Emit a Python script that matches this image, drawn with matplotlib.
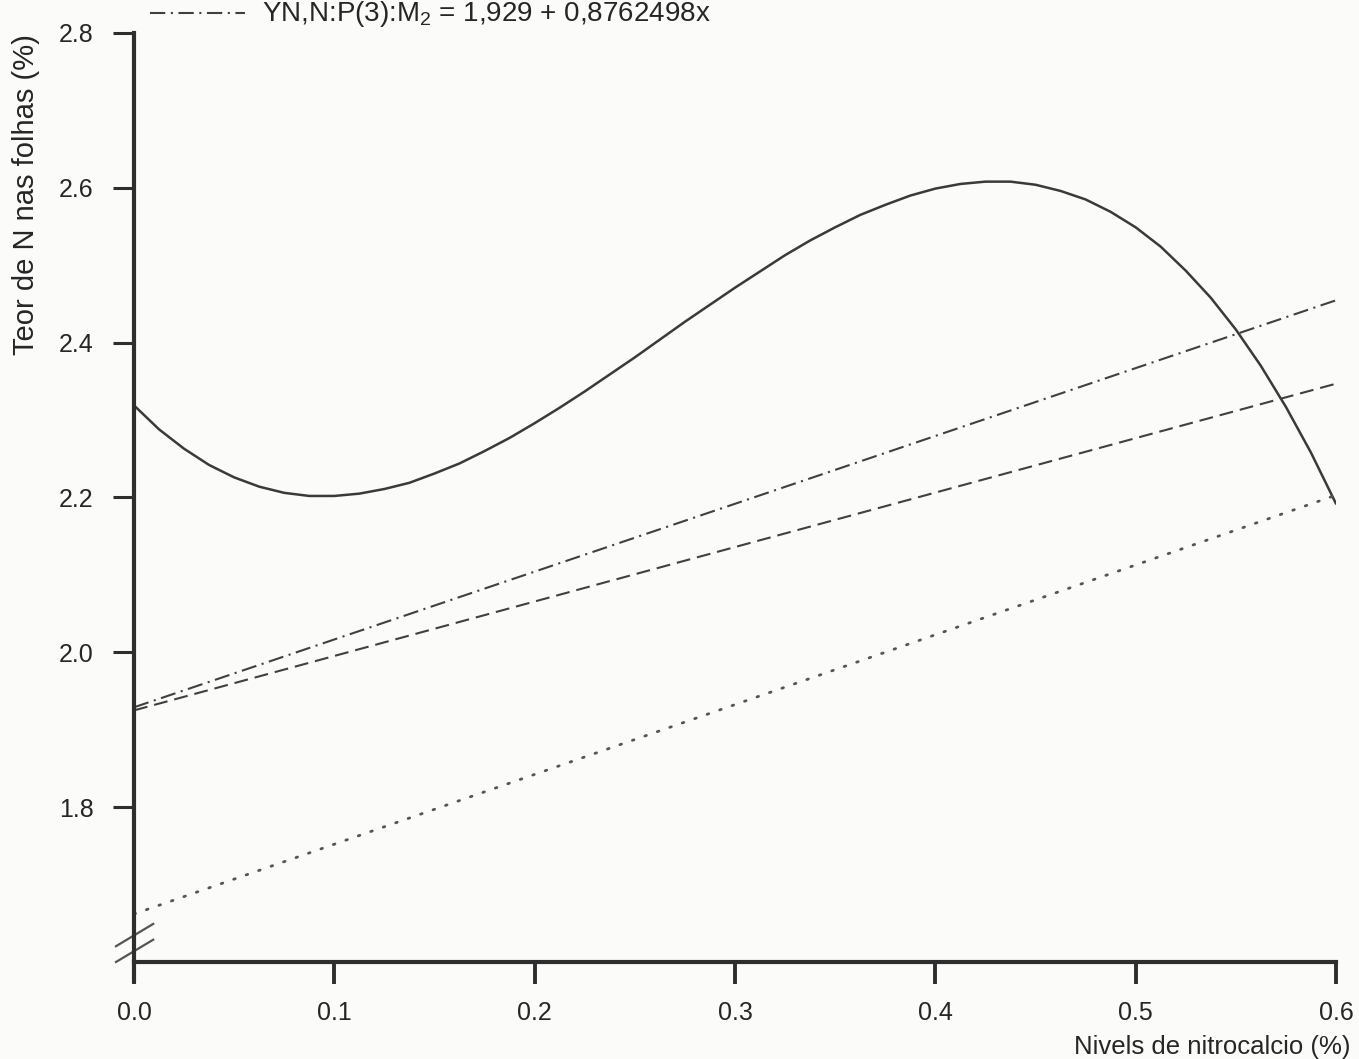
import numpy as np
import matplotlib
matplotlib.use("Agg")
from matplotlib import pyplot as plt
from matplotlib.lines import Line2D

plt.rcParams['font.family'] = ['Liberation Sans', 'DejaVu Sans']
plt.rcParams['mathtext.fontset'] = 'custom'
plt.rcParams['mathtext.rm'] = 'Liberation Sans'
plt.rcParams['lines.scale_dashes'] = False

# Niveis de nitrocalcio (%) and the cubic response of leaf N (%)
niveis = [0.0, 0.0125, 0.025, 0.0375, 0.05, 0.0625, 0.075, 0.0875, 0.1,
          0.1125, 0.125, 0.1375, 0.15, 0.1625, 0.175, 0.1875, 0.2, 0.2125,
          0.225, 0.2375, 0.25, 0.2625, 0.275, 0.2875, 0.3, 0.3125, 0.325,
          0.3375, 0.35, 0.3625, 0.375, 0.3875, 0.4, 0.4125, 0.425, 0.4375,
          0.45, 0.4625, 0.475, 0.4875, 0.5, 0.5125, 0.525, 0.5375, 0.55,
          0.5625, 0.575, 0.5875, 0.6]
teor_cubica = [2.319, 2.288, 2.263, 2.242, 2.226, 2.214, 2.206, 2.202, 2.202,
               2.205, 2.211, 2.219, 2.231, 2.244, 2.260, 2.277, 2.296, 2.316,
               2.337, 2.359, 2.381, 2.404, 2.427, 2.449, 2.471, 2.492, 2.513,
               2.532, 2.549, 2.565, 2.578, 2.590, 2.599, 2.605, 2.608, 2.608,
               2.604, 2.596, 2.585, 2.569, 2.549, 2.524, 2.493, 2.458, 2.417,
               2.370, 2.317, 2.258, 2.192]

# Linear fits, drawn between the ends of the x range
x_reta = [0.0, 0.6]
m2_intercepto, m2_inclinacao = 1.929, 0.8762498   # YN,N:P(3):M2
teor_tracejada = [1.925, 2.347]
teor_pontilhada = [1.662, 2.203]

x_ticks = [0.0, 0.1, 0.2, 0.3, 0.4, 0.5, 0.6]
x_labels = ['0.0', '0.1', '0.2', '0.3', '0.4', '0.5', '0.6']
y_ticks = [1.8, 2.0, 2.2, 2.4, 2.6, 2.8]
y_labels = ['1.8', '2.0', '2.2', '2.4', '2.6', '2.8']

W, H = 1359, 1059
fig = plt.figure(figsize=(W / 100, H / 100), dpi=100, facecolor='#fbfbfa')
ax = fig.add_axes([134 / W, 1 - 962 / H, 1202 / W, 929 / H])
ax.set_facecolor('none')

texto = '#262626'
linha = '#404040'
ax.plot(niveis, teor_cubica, color='#3a3a3a', lw=1.8, solid_capstyle='round')
m2 = [m2_intercepto + m2_inclinacao * x for x in x_reta]
ax.plot(x_reta, m2, color=linha, lw=1.5, dashes=(11, 4, 1.5, 4))
ax.plot(x_reta, teor_tracejada, color=linha, lw=1.5, dashes=(10, 5))
ax.plot(x_reta, teor_pontilhada, color='#555555', lw=2.0, dashes=(1.2, 8.3),
        dash_capstyle='round')

ax.set_xlim(0.0, 0.6)
ax.set_ylim(1.6, 2.8)

for s in ('top', 'right'):
    ax.spines[s].set_visible(False)
for s in ('left', 'bottom'):
    ax.spines[s].set_linewidth(3.0)
    ax.spines[s].set_color('#2e2e2e')
ax.spines['left'].set_zorder(5)
ax.spines['left'].set_bounds(1.6 - 0.025, 2.8)

ax.set_xticks(x_ticks)
ax.set_xticklabels(x_labels)
ax.set_yticks(y_ticks)
ax.set_yticklabels(y_labels)
ax.tick_params(axis='x', direction='out', length=16, width=2.8, pad=12,
               labelsize=18, color='#2e2e2e', labelcolor=texto)
ax.tick_params(axis='y', direction='out', length=15, width=2.2, pad=14,
               labelsize=18, color='#2e2e2e', labelcolor=texto)

ax.set_ylabel('Teor de N nas folhas (%)', fontsize=21, color=texto)
ax.yaxis.set_label_coords(-0.078, 0.826)
ax.set_xlabel('Nivels de nitrocalcio (%)', fontsize=18.5, color=texto,
              ha='right')
ax.xaxis.set_label_coords(1.012, -0.079)

# axis break marks at the foot of the y axis
for y0 in (0.0, 0.017):
    ax.plot([-0.015, 0.016], [y0, y0 + 0.024], transform=ax.transAxes,
            color='#555555', lw=1.6, clip_on=False, zorder=4)

# legend line and equation at the top
fig.add_artist(Line2D([150 / W, 245 / W], [1 - 13 / H, 1 - 13 / H],
                      color=linha, lw=1.5, dashes=(11, 4, 1.5, 4)))
fig.text(262 / W, 1 - 21 / H,
         r'YN,N:P(3):M$_{\mathregular{2}}$ = 1,929 + 0,8762498x',
         fontsize=20, color=texto, ha='left', va='baseline')

fig.savefig('out.png', dpi=100, facecolor=fig.get_facecolor())
